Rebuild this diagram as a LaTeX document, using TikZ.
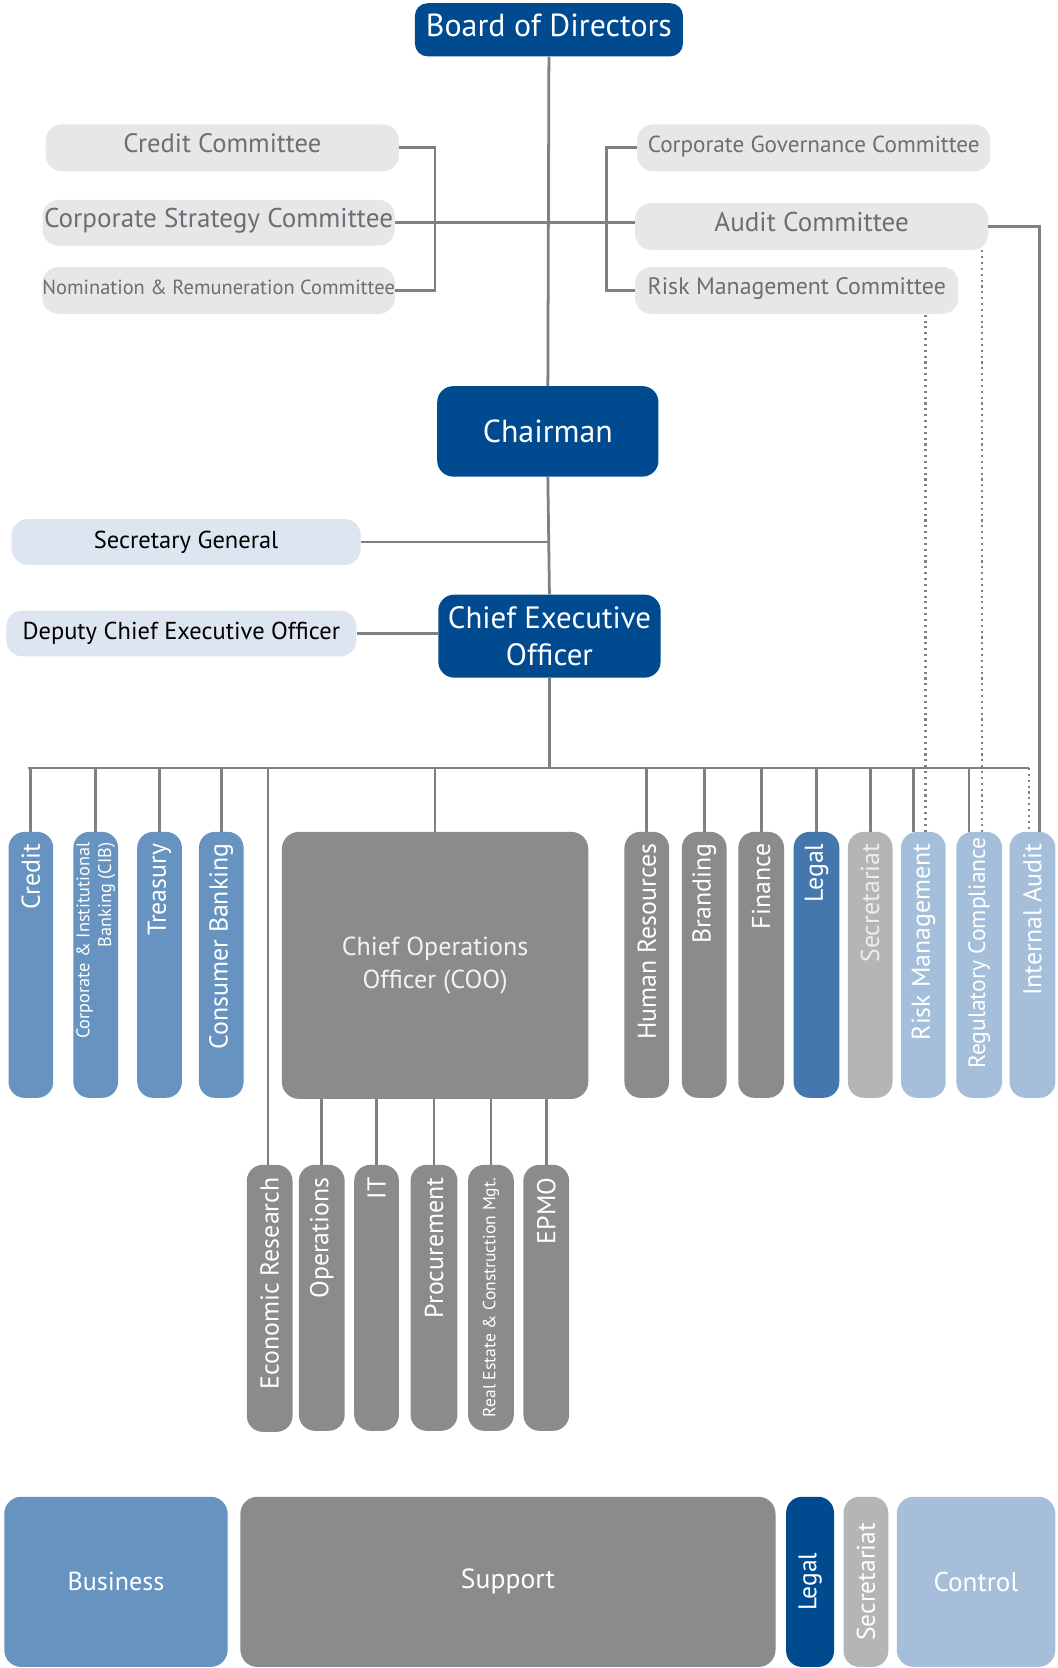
\documentclass[tikz,border=0pt]{standalone}
\usepackage{fontspec}
\setmainfont{PT Sans}
\usetikzlibrary{calc}
\definecolor{dblue}{HTML}{004A90}
\definecolor{bizblue}{HTML}{6793C0}
\definecolor{legblue}{HTML}{4377AD}
\definecolor{sgrey}{HTML}{8A8B8D}
\definecolor{lgrey}{HTML}{B4B5B7}
\definecolor{ctrl}{HTML}{A5BFDA}
\definecolor{cfill}{HTML}{E6E7E8}
\definecolor{ctext}{HTML}{6D6E71}
\definecolor{sfill}{HTML}{DDE5F0}
\definecolor{lncol}{HTML}{7F8083}
\newcommand\bx[7]{%
  \pgfmathsetmacro\bxw{#4-#2}\pgfmathsetmacro\bxh{#5-#3}%
  \node[box,#6,minimum width=\bxw pt,minimum height=\bxh pt] (#1) at ({(#2+#4)/2},{(#3+#5)/2}) {#7};}
\begin{document}
\begin{tikzpicture}[x=1pt,y=-1pt,
  box/.style={rounded corners=13pt, inner sep=0pt, draw=none, align=center},
  ln/.style={draw=lncol, line width=2.6pt},
  dotln/.style={draw=lncol, line width=2pt, dash pattern=on 2pt off 3.5pt},
  topblue/.style={fill=dblue, text=white, font=\fontsize{29}{35}\selectfont},
  comm/.style={fill=cfill, text=ctext, font=\fontsize{25}{29}\selectfont, rounded corners=15pt, text height=17pt, text depth=8pt},
  side/.style={fill=sfill, text=black, font=\fontsize{23}{27}\selectfont, rounded corners=15pt},
  vbox/.style={rounded corners=15pt},
  vtxt/.style={rotate=90, anchor=east, inner sep=0pt, text=white, font=\fontsize{24.3}{28}\selectfont},
  btxt/.style={text=white, font=\fontsize{24.5}{28}\selectfont},
]
\useasboundingbox[fill=white] (0,0) rectangle (994,1568);

% top
\bx{board}{390}{3}{642}{53}{topblue,font=\fontsize{30}{36}\selectfont,rounded corners=12pt,text height=21pt,text depth=9pt}{Board of Directors}
\bx{ccred}{43}{117}{375}{161}{comm}{Credit Committee}
\bx{cstrat}{40}{188}{371}{231}{comm,font=\fontsize{25.5}{29}\selectfont}{Corporate Strategy Committee}
\bx{cnom}{40}{251}{371}{295}{comm,font=\fontsize{19.2}{24}\selectfont,text height=14pt,text depth=6pt}{Nomination \& Remuneration Committee}
\bx{cgov}{599}{117}{931}{161}{comm,font=\fontsize{21.8}{27}\selectfont,text height=15pt,text depth=7pt}{Corporate Governance Committee}
\bx{caud}{597}{191}{929}{235}{comm,font=\fontsize{25.5}{29}\selectfont}{Audit Committee}
\bx{crisk}{597}{251}{901}{295}{comm,font=\fontsize{22.4}{27}\selectfont,text height=15pt,text depth=7pt}{Risk Management Committee}

\bx{chair}{411}{363}{619}{448}{topblue,font=\fontsize{30}{36}\selectfont,rounded corners=15pt}{Chairman}
\bx{secg}{11}{488}{339}{531}{side}{Secretary General}
\bx{ceo}{412}{559}{621}{637}{topblue,rounded corners=15pt}{Chief Executive\\Officer}
\bx{dep}{6}{574}{335}{617}{side}{Deputy Chief Executive Officer}

% middle row
\bx{cred}{8}{782}{50}{1032}{vbox,fill=bizblue}{}
\bx{cib}{69}{782}{111}{1032}{vbox,fill=bizblue}{}
\bx{trea}{129}{782}{171}{1032}{vbox,fill=bizblue}{}
\bx{cons}{187}{782}{229}{1032}{vbox,fill=bizblue}{}
\bx{coo}{265}{782}{553}{1033}{fill=sgrey,text=white!95!black,font=\fontsize{24.5}{31}\selectfont,rounded corners=16pt}{Chief Operations\\Officer (COO)}
\bx{hr}{587}{782}{629}{1032}{vbox,fill=sgrey}{}
\bx{brand}{641}{782}{683}{1032}{vbox,fill=sgrey}{}
\bx{fin}{694}{782}{737}{1032}{vbox,fill=sgrey}{}
\bx{leg}{746}{782}{789}{1032}{vbox,fill=legblue}{}
\bx{secr}{797}{782}{839}{1032}{vbox,fill=lgrey}{}
\bx{rm}{847}{782}{889}{1032}{vbox,fill=ctrl}{}
\bx{reg}{899}{782}{942}{1032}{vbox,fill=ctrl}{}
\bx{ia}{949}{782}{992}{1032}{vbox,fill=ctrl}{}

\node[vtxt] (tcred) at ([yshift=-11pt]cred.north) {Credit};
\node[vtxt,font=\fontsize{17.2}{20.5}\selectfont,align=right] (tcib) at ([yshift=-10pt]cib.north) {Corporate \& Institutional\\Banking (CIB)};
\node[vtxt] (ttrea) at ([yshift=-11pt]trea.north) {Treasury};
\node[vtxt] (tcons) at ([yshift=-11pt]cons.north) {Consumer Banking};
\node[vtxt] (thr) at ([yshift=-11pt]hr.north) {Human Resources};
\node[vtxt] (tbrand) at ([yshift=-11pt]brand.north) {Branding};
\node[vtxt] (tfin) at ([yshift=-11pt]fin.north) {Finance};
\node[vtxt] (tleg) at ([yshift=-11pt]leg.north) {Legal};
\node[vtxt,text=white!93!black] (tsecr) at ([yshift=-11pt]secr.north) {Secretariat};
\node[vtxt] (trm) at ([yshift=-11pt]rm.north) {Risk Management};
\node[vtxt,font=\fontsize{22.2}{26}\selectfont] (treg) at ([yshift=-5pt]reg.north) {Regulatory Compliance};
\node[vtxt] (tia) at ([yshift=-11pt]ia.north) {Internal Audit};

% sub row
\bx{econ}{232}{1095}{275}{1346}{vbox,fill=sgrey}{}
\bx{ops}{281}{1095}{324}{1345}{vbox,fill=sgrey}{}
\bx{it}{333}{1095}{375}{1345}{vbox,fill=sgrey}{}
\bx{proc}{386}{1095}{430}{1345}{vbox,fill=sgrey}{}
\bx{re}{440}{1095}{483}{1345}{vbox,fill=sgrey}{}
\bx{epmo}{492}{1095}{535}{1345}{vbox,fill=sgrey}{}
\node[vtxt] (tecon) at ([yshift=-12pt]econ.north) {Economic Research};
\node[vtxt] (tops) at ([yshift=-12pt]ops.north) {Operations};
\node[vtxt] (tit) at ([yshift=-12pt]it.north) {IT};
\node[vtxt] (tproc) at ([yshift=-12pt]proc.north) {Procurement};
\node[vtxt,font=\fontsize{16.5}{20}\selectfont] (tre) at ([yshift=-12pt]re.north) {Real Estate \& Construction Mgt.};
\node[vtxt] (tepmo) at ([yshift=-12pt]epmo.north) {EPMO};

% legend
\bx{bus}{4}{1407}{214}{1567}{fill=bizblue,btxt,rounded corners=16pt}{Business}
\bx{sup}{226}{1407}{729}{1567}{fill=sgrey,btxt,font=\fontsize{26}{30}\selectfont,rounded corners=16pt}{Support}
\bx{legb}{739}{1407}{784}{1567}{fill=dblue,rounded corners=15pt}{}
\bx{secb}{793}{1407}{835}{1567}{fill=lgrey,rounded corners=15pt}{}
\bx{ctl}{843}{1407}{992}{1567}{fill=ctrl,btxt,font=\fontsize{25.5}{30}\selectfont,rounded corners=16pt}{Control}
\node[rotate=90,inner sep=0pt,text=white,font=\fontsize{24}{28}\selectfont] (tlegb) at (legb.center) {Legal};
\node[rotate=90,inner sep=0pt,text=white,font=\fontsize{24}{28}\selectfont] (tsecb) at (secb.center) {Secretariat};

% connectors
\coordinate (busL) at (26,722);
\coordinate (busR) at (967,722);
\coordinate (lbr) at (409,0);
\coordinate (rbr) at (570,0);
\draw[ln] (board.south) -- (chair.north);
\draw[ln] (chair.south) -- (ceo.north);
\draw[ln] (ceo.south) -- (ceo.south |- busL);
\draw[ln] (busL) -- (busR);
\draw[ln] (secg.east) -- (secg.east -| ceo.north);
\draw[ln] (dep.east) -- (ceo.west |- dep.east);
\draw[ln] (ccred.east) -| (lbr |- cnom.east) -- (cnom.east);
\draw[ln] (cstrat.east) -- (cstrat.east -| caud.west);
\draw[ln] (cgov.west) -| (rbr |- crisk.west) -- (crisk.west);
\draw[ln] (caud.east) -| ([xshift=7pt]ia.north);

\foreach \n in {cred,cib,trea,cons,hr,brand,fin,leg,secr}
  \draw[ln] (\n.north) -- (\n.north |- busL);
\draw[ln] (coo.north) -- (coo.north |- busL);
\draw[ln] ([xshift=-9pt]rm.north) -- ([xshift=-9pt]rm.north |- busL);
\draw[ln] ([xshift=-9.5pt]reg.north) -- ([xshift=-9.5pt]reg.north |- busL);
\draw[ln] ([xshift=-1.5pt]econ.north) -- ([xshift=-1.5pt]econ.north |- busL);
\foreach \n in {ops,it,proc,re,epmo}
  \draw[ln] (\n.north) -- (\n.north |- coo.south);

\draw[dotln] ([xshift=2pt]rm.north) -- ([xshift=2pt]rm.north |- crisk.south);
\draw[dotln] ([xshift=3pt]reg.north) -- ([xshift=3pt]reg.north |- caud.south);
\draw[dotln] (busR) -- (busR |- ia.north);
\end{tikzpicture}
\end{document}
